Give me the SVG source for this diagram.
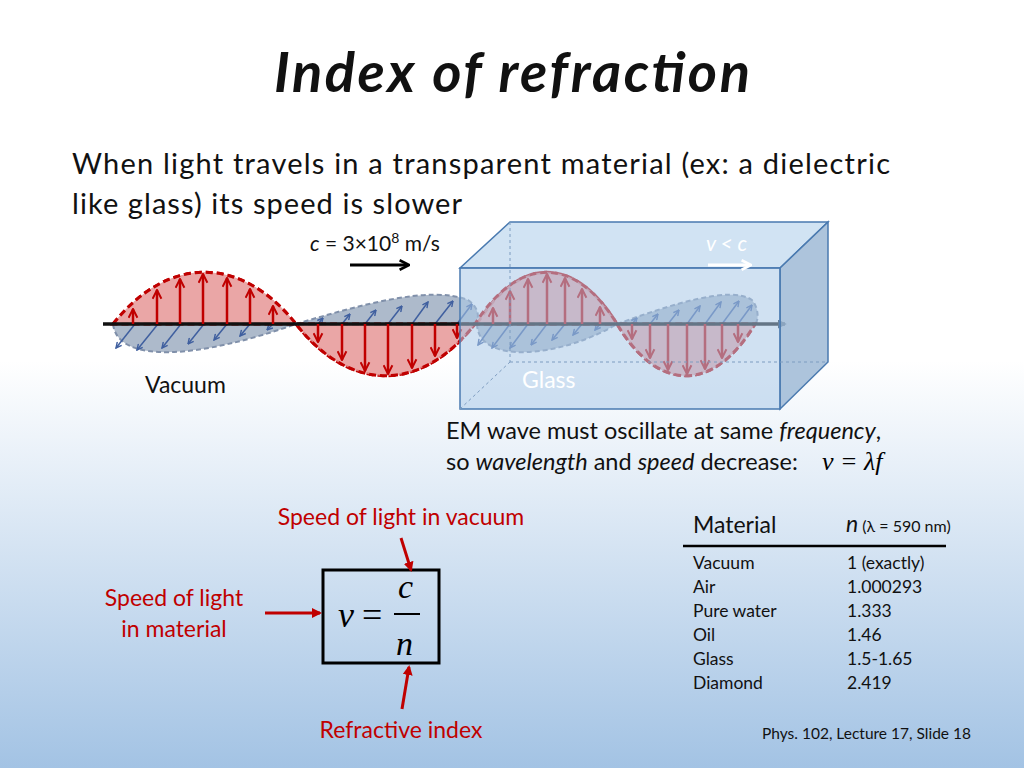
<svg xmlns="http://www.w3.org/2000/svg" width="1024" height="768" viewBox="0 0 1024 768">
<defs>
<linearGradient id="bg" x1="0" y1="0" x2="0" y2="1">
<stop offset="0" stop-color="#ffffff"/><stop offset="0.47" stop-color="#ffffff"/><stop offset="1" stop-color="#a3c3e4"/>
</linearGradient>
<marker id="rh" viewBox="0 0 10 10" refX="9" refY="5" markerWidth="11" markerHeight="11" orient="auto" markerUnits="userSpaceOnUse"><path d="M1,1 L9,5 L1,9" fill="none" stroke="#c00000" stroke-width="1.8"/></marker>
<marker id="bh" viewBox="0 0 10 10" refX="9" refY="5" markerWidth="7" markerHeight="7" orient="auto" markerUnits="userSpaceOnUse"><path d="M1,1 L9,5 L1,9" fill="none" stroke="#3f5f9f" stroke-width="2"/></marker>
<marker id="big" viewBox="0 0 10 10" refX="8" refY="5" markerWidth="12" markerHeight="12" orient="auto" markerUnits="userSpaceOnUse"><path d="M1,1 L9,5 L1,9" fill="none" stroke-width="2.2" stroke="context-stroke"/></marker>
<marker id="ah" viewBox="0 0 10 10" refX="8" refY="5" markerWidth="10" markerHeight="10" orient="auto" markerUnits="userSpaceOnUse"><path d="M0,0 L10,5 L0,10 Z" fill="#c00000"/></marker>
<marker id="kh" viewBox="0 0 10 10" refX="8" refY="5" markerWidth="9" markerHeight="9" orient="auto" markerUnits="userSpaceOnUse"><path d="M0,0 L10,5 L0,10 Z" fill="#1a2a40"/></marker>
</defs>
<style>
.t{font-family:Lato,"Liberation Sans",sans-serif;fill:#111}
.r{font-family:Lato,"Liberation Sans",sans-serif;fill:#c00000;font-size:23px}
.m{font-family:"Liberation Serif",serif;font-style:italic}
.ra{stroke:#c00000;stroke-width:2.5;marker-end:url(#rh)}
.ba{stroke:#3f5f9f;stroke-width:1.5;marker-end:url(#bh)}
.rw{fill:#e8a0a0;fill-opacity:0.75;stroke:#c00000;stroke-width:3;stroke-dasharray:7 4}
.bw{fill:#8a9cb5;fill-opacity:0.7;stroke:#8090aa;stroke-width:2;stroke-dasharray:5 3}
</style>
<rect width="1024" height="768" fill="url(#bg)"/>
<text x="512" y="92" text-anchor="middle" class="t" font-size="56" font-weight="bold" font-style="italic" fill="#000" textLength="476">Index of refraction</text>
<text x="72" y="174" class="t" font-size="29" textLength="818">When light travels in a transparent material (ex: a dielectric</text>
<text x="72" y="214" class="t" font-size="29" textLength="390">like glass) its speed is slower</text>

<g id="waves">
<path class="bw" d="M113,324 C118,365 200,358 296,324 Z"/>
<path class="bw" d="M296,324 C360,305 430,285 468,300 C482,310 478,322 475,324 Z"/>
<path class="bw" d="M477,324 C478,365 560,358 617,324 Z"/>
<path class="bw" d="M617,324 C670,305 730,285 752,300 C760,310 758,322 755,324 Z"/>
<g>
<line class="ba" x1="135" y1="324" x2="116" y2="348"/>
<line class="ba" x1="158" y1="324" x2="137" y2="350"/>
<line class="ba" x1="181" y1="324" x2="162" y2="348"/>
<line class="ba" x1="204" y1="324" x2="188" y2="344"/>
<line class="ba" x1="227" y1="324" x2="214" y2="340"/>
<line class="ba" x1="250" y1="324" x2="240" y2="336"/>
<line class="ba" x1="273" y1="324" x2="267" y2="330"/>
<line class="ba" x1="318" y1="324" x2="323" y2="318"/>
<line class="ba" x1="342" y1="324" x2="350" y2="314"/>
<line class="ba" x1="365" y1="324" x2="376" y2="310"/>
<line class="ba" x1="388" y1="324" x2="402" y2="306"/>
<line class="ba" x1="412" y1="324" x2="428" y2="302"/>
<line class="ba" x1="435" y1="324" x2="453" y2="301"/>
<line class="ba" x1="457" y1="324" x2="472" y2="304"/>
<line class="ba" x1="493" y1="324" x2="478" y2="345"/>
<line class="ba" x1="510" y1="324" x2="492" y2="348"/>
<line class="ba" x1="528" y1="324" x2="510" y2="348"/>
<line class="ba" x1="547" y1="324" x2="531" y2="345"/>
<line class="ba" x1="565" y1="324" x2="552" y2="340"/>
<line class="ba" x1="582" y1="324" x2="573" y2="335"/>
<line class="ba" x1="600" y1="324" x2="595" y2="330"/>
<line class="ba" x1="632" y1="324" x2="637" y2="318"/>
<line class="ba" x1="650" y1="324" x2="658" y2="314"/>
<line class="ba" x1="668" y1="324" x2="679" y2="310"/>
<line class="ba" x1="687" y1="324" x2="700" y2="306"/>
<line class="ba" x1="705" y1="324" x2="721" y2="302"/>
<line class="ba" x1="722" y1="324" x2="739" y2="301"/>
<line class="ba" x1="738" y1="324" x2="752" y2="305"/>
</g>
<path class="rw" d="M113,324 C168,255 241,255 296,324 L113,324 Z" stroke="none"/>
<path class="rw" d="M296,324 C350,393 421,393 475,324 Z" stroke="none"/>
<path class="rw" d="M477,324 C519,255 575,255 617,324 Z" stroke="none"/>
<path class="rw" d="M617,324 C658,393 714,393 755,324 Z" stroke="none"/>
<path class="rw" fill="none" d="M113,324 C168,255 241,255 296,324 C350,393 421,393 475,324 C519,255 575,255 617,324 C658,393 714,393 755,324"/>
<line x1="103" y1="324" x2="785" y2="324" stroke="#111" stroke-width="3.5" marker-end="url(#kh)"/>
<g>
<line class="ra" x1="133" y1="324" x2="133" y2="309"/>
<line class="ra" x1="157" y1="324" x2="157" y2="290"/>
<line class="ra" x1="180" y1="324" x2="180" y2="279"/>
<line class="ra" x1="203" y1="324" x2="203" y2="274"/>
<line class="ra" x1="227" y1="324" x2="227" y2="278"/>
<line class="ra" x1="250" y1="324" x2="250" y2="289"/>
<line class="ra" x1="273" y1="324" x2="273" y2="306"/>
<line class="ra" x1="318" y1="324" x2="318" y2="342"/>
<line class="ra" x1="342" y1="324" x2="342" y2="360"/>
<line class="ra" x1="365" y1="324" x2="365" y2="371"/>
<line class="ra" x1="388" y1="324" x2="388" y2="374"/>
<line class="ra" x1="412" y1="324" x2="412" y2="368"/>
<line class="ra" x1="435" y1="324" x2="435" y2="356"/>
<line class="ra" x1="457" y1="324" x2="457" y2="338"/>
<line class="ra" x1="493" y1="324" x2="493" y2="308"/>
<line class="ra" x1="510" y1="324" x2="510" y2="291"/>
<line class="ra" x1="528" y1="324" x2="528" y2="279"/>
<line class="ra" x1="547" y1="324" x2="547" y2="274"/>
<line class="ra" x1="565" y1="324" x2="565" y2="278"/>
<line class="ra" x1="582" y1="324" x2="582" y2="289"/>
<line class="ra" x1="600" y1="324" x2="600" y2="307"/>
<line class="ra" x1="632" y1="324" x2="632" y2="339"/>
<line class="ra" x1="650" y1="324" x2="650" y2="358"/>
<line class="ra" x1="668" y1="324" x2="668" y2="370"/>
<line class="ra" x1="687" y1="324" x2="687" y2="374"/>
<line class="ra" x1="705" y1="324" x2="705" y2="369"/>
<line class="ra" x1="722" y1="324" x2="722" y2="358"/>
<line class="ra" x1="738" y1="324" x2="738" y2="342"/>
</g>
</g>

<g id="glass">
<polygon points="460,268 510,222 828,222 780,268" fill="#c6dcf0" fill-opacity="0.8" stroke="#4a7ab0" stroke-width="1.5"/>
<polygon points="780,268 828,222 828,362 780,409" fill="#9fbad6" fill-opacity="0.85" stroke="#4a7ab0" stroke-width="1.5"/>
<rect x="460" y="268" width="320" height="141" fill="#a9c9e8" fill-opacity="0.55" stroke="#4a7ab0" stroke-width="1.5"/>
<g stroke="#7d9cc0" stroke-width="1" stroke-dasharray="3 3" fill="none">
<line x1="510" y1="222" x2="510" y2="362"/><line x1="510" y1="362" x2="828" y2="362"/><line x1="460" y1="409" x2="510" y2="362"/>
</g>
<text x="522" y="388" class="t" font-size="23" style="fill:#fff">Glass</text>
<text x="706" y="251" class="t" font-size="21" font-style="italic" style="fill:#fff">v &lt; c</text>
<line x1="708" y1="265" x2="750" y2="265" stroke="#fff" stroke-width="3" marker-end="url(#big)"/>
</g>

<g id="speed">
<text x="310" y="251" class="t" font-size="21"><tspan font-style="italic">c</tspan> = 3×10<tspan font-size="14" dy="-8">8</tspan><tspan dy="8"> m/s</tspan></text>
<line x1="350" y1="265" x2="408" y2="265" stroke="#000" stroke-width="3" marker-end="url(#big)"/>
<text x="145" y="393" class="t" font-size="23">Vacuum</text>
<text x="446" y="439" class="t" font-size="23.5">EM wave must oscillate at same <tspan font-style="italic">frequency</tspan>,</text>
<text x="446" y="470" class="t" font-size="23.5">so <tspan font-style="italic">wavelength</tspan> and <tspan font-style="italic">speed</tspan> decrease:</text>
<text x="822" y="470" class="m" font-size="26" fill="#000">v = λf</text>
</g>

<g id="formula">
<rect x="323" y="570" width="116" height="93" fill="none" stroke="#000" stroke-width="3"/>
<text x="338" y="627" class="m" font-size="36">v</text>
<text x="362" y="627" font-family="Liberation Serif,serif" font-size="36">=</text>
<text x="398" y="598" class="m" font-size="34">c</text>
<line x1="394" y1="614" x2="420" y2="614" stroke="#000" stroke-width="2"/>
<text x="396" y="655" class="m" font-size="34">n</text>
</g>
<g id="labels">
<text x="401" y="525" text-anchor="middle" class="r">Speed of light in vacuum</text>
<text x="174" y="606" text-anchor="middle" class="r">Speed of light</text>
<text x="174" y="637" text-anchor="middle" class="r">in material</text>
<text x="401" y="738" text-anchor="middle" class="r">Refractive index</text>
</g>
<g id="connectors" stroke="#c00000" stroke-width="3">
<line x1="265" y1="613" x2="320" y2="613" marker-end="url(#ah)"/>
<line x1="401" y1="538" x2="411" y2="570" marker-end="url(#ah)"/>
<line x1="402" y1="709" x2="409" y2="667" marker-end="url(#ah)"/>
</g>

<g id="table" class="t">
<text x="693" y="533" class="t" font-size="23">Material</text>
<text x="846" y="532" class="t" font-size="23" font-style="italic">n<tspan font-style="normal" font-size="16"> (λ = 590 nm)</tspan></text>
<line x1="683" y1="546" x2="946" y2="546" stroke="#000" stroke-width="2.5"/>
<g font-size="17.5">
<text x="693" y="569" class="t">Vacuum</text><text x="847" y="569" class="t">1 (exactly)</text>
<text x="693" y="593" class="t">Air</text><text x="847" y="593" class="t">1.000293</text>
<text x="693" y="617" class="t">Pure water</text><text x="847" y="617" class="t">1.333</text>
<text x="693" y="641" class="t">Oil</text><text x="847" y="641" class="t">1.46</text>
<text x="693" y="665" class="t">Glass</text><text x="847" y="665" class="t">1.5-1.65</text>
<text x="693" y="689" class="t">Diamond</text><text x="847" y="689" class="t">2.419</text>
</g>
<text x="762" y="739" class="t" font-size="15.5">Phys. 102, Lecture 17, Slide 18</text>
</g>
</svg>
